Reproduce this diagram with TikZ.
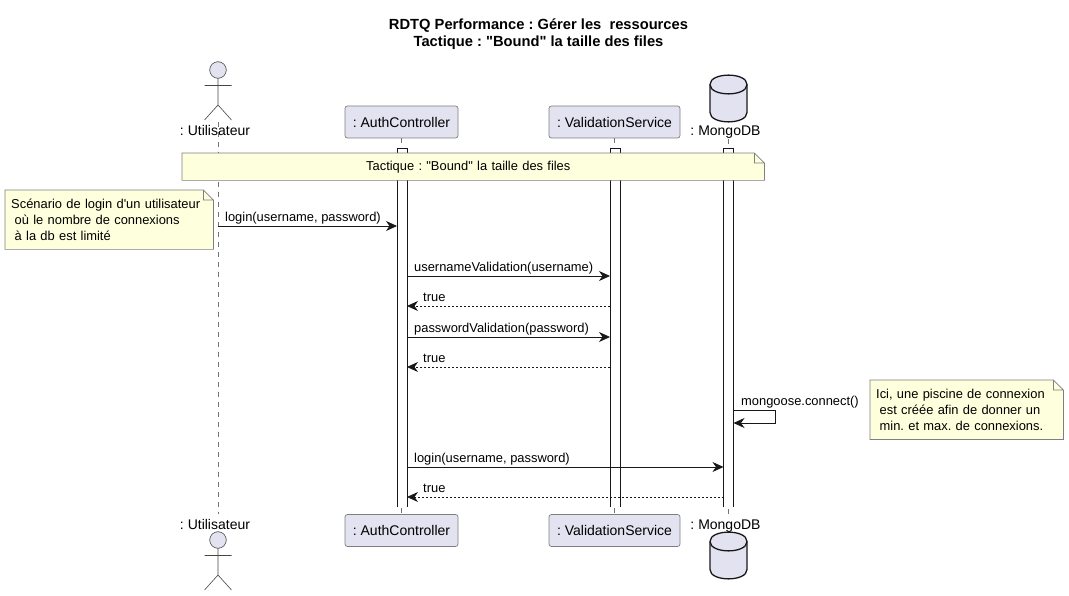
\documentclass[tikz,border=0pt]{standalone}
\usepackage{fontspec}
\setmainfont{Liberation Sans}[Ligatures=TeXOff]
\usetikzlibrary{arrows.meta}
\definecolor{boxfill}{HTML}{E2E2F0}
\definecolor{boxline}{HTML}{7F7F7F}
\definecolor{notefill}{HTML}{FEFFDD}
\definecolor{inkline}{HTML}{181818}
\tikzset{
    basefont/.style={font=\frenchspacing\fontsize{12.9}{16.3}\selectfont,text=black},
    bigfont/.style={font=\frenchspacing\fontsize{14}{17}\selectfont,text=black},
    partbox/.style={bigfont,draw=boxline,fill=boxfill,rounded corners=2.5pt,line width=0.7pt,
        minimum height=32pt,inner sep=0pt},
    partlabel/.style={bigfont,inner sep=0pt,anchor=base},
    msgtext/.style={basefont,inner sep=0pt,anchor=base west},
    msg/.style={draw=inkline,line width=0.8pt,-{Stealth[length=11pt,width=10pt,inset=3.5pt]}},
    reply/.style={msg,densely dashed,dash pattern=on 2pt off 2pt},
    lifeline/.style={draw=inkline!60,line width=0.6pt,dash pattern=on 5pt off 5pt},
    barbox/.style={fill=white,draw=none,minimum width=9.6pt,minimum height=359pt,inner sep=0pt,anchor=north},
    barline/.style={draw=inkline,line width=0.7pt},
    notebox/.style={basefont,fill=notefill,draw=none,inner xsep=6pt,inner ysep=0pt,align=left,anchor=north west,
        path picture={\fill[white] (path picture bounding box.north east) -- ++(-10pt,0pt) -- ++(10pt,-10pt) -- cycle;}},
    noteline/.style={draw=boxline,line width=0.7pt},
    actorpic/.pic={
        \draw[draw=inkline!80,line width=0.6pt,fill=boxfill] (0,0) circle[radius=8.3pt];
        \draw[draw=inkline!80,line width=0.6pt] (0,8.3) -- (0,35) (-13.5,15.5) -- (13.5,15.5)
            (-13.5,50) -- (0,35) -- (13.5,50);
    },
    dbpic/.pic={
        \draw[draw=inkline,line width=1.3pt,fill=boxfill] (-18.5,9.5) .. controls (-18.5,-3) and (18.5,-3) .. (18.5,9.5)
            -- (18.5,37.5) .. controls (18.5,50) and (-18.5,50) .. (-18.5,37.5) -- cycle;
        \draw[draw=inkline,line width=1.3pt] (-18.5,9.5) .. controls (-18.5,22) and (18.5,22) .. (18.5,9.5);
    },
}
\begin{document}
\begin{tikzpicture}[x=1pt,y=-1pt]
    \useasboundingbox (0,0) rectangle (1069,596);
    \node[font=\frenchspacing\fontsize{14.7}{17}\selectfont\bfseries,align=center,inner sep=0pt] (title) at (538.5,34)
        {RDTQ Performance : Gérer les\ \ ressources\\Tactique : "Bound" la taille des files};

    % participants
    \pic at (218,70) {actorpic};
    \pic at (218,540) {actorpic};
    \pic at (728.5,75) {dbpic};
    \pic at (728.5,532) {dbpic};
    \node[partlabel] (userTopLabel) at (215,136) {: Utilisateur};
    \node[partlabel] (userBotLabel) at (215,529) {: Utilisateur};
    \node[partlabel] (mongoTopLabel) at (725.5,136) {: MongoDB};
    \node[partlabel] (mongoBotLabel) at (725.5,529) {: MongoDB};
    \node[partbox,minimum width=113pt] (authTop) at (401.5,122) {: AuthController};
    \node[partbox,minimum width=113pt] (authBot) at (401.5,530.5) {: AuthController};
    \node[partbox,minimum width=131pt] (validTop) at (614.5,122) {: ValidationService};
    \node[partbox,minimum width=131pt] (validBot) at (614.5,530.5) {: ValidationService};
    \coordinate (userTop) at (218,122);
    \coordinate (userBot) at (218,514);
    \coordinate (mongoTop) at (728.5,139);
    \coordinate (mongoBot) at (728.5,514);

    % lifelines and bars
    \draw[lifeline] (userTop) -- (userBot);
    \draw[lifeline] (authTop) -- (authBot);
    \draw[lifeline] (validTop) -- (validBot);
    \draw[lifeline] (mongoTop) -- (mongoBot);
    \node[barbox] (authBar) at (402,148) {};
    \node[barbox] (validBar) at (615,148) {};
    \node[barbox] (mongoBar) at (728.5,148) {};
    \foreach \barname in {authBar,validBar,mongoBar}
        \draw[barline] (\barname.south west) -- (\barname.north west) -- (\barname.north east) -- (\barname.south east);

    % message levels
    \coordinate (m1) at (0,226);
    \coordinate (m2) at (0,276);
    \coordinate (m3) at (0,306);
    \coordinate (m4) at (0,337);
    \coordinate (m5) at (0,367);
    \coordinate (m6) at (0,410);
    \coordinate (m6b) at (0,423);
    \coordinate (m7) at (0,467);
    \coordinate (m8) at (0,497);
    \coordinate (loopEnd) at (775,0);

    \draw[msg] (userTop |- m1) -- (authBar.west |- m1);
    \node[msgtext] (t1) at (225,221.5) {login(username, password)};
    \draw[msg] (authBar.east |- m2) -- (validBar.west |- m2);
    \node[msgtext] (t2) at (414,271.5) {usernameValidation(username)};
    \draw[reply] (validBar.west |- m3) -- (authBar.east |- m3);
    \node[msgtext] (t3) at (423,301.5) {true};
    \draw[msg] (authBar.east |- m4) -- (validBar.west |- m4);
    \node[msgtext] (t4) at (414,332) {passwordValidation(password)};
    \draw[reply] (validBar.west |- m5) -- (authBar.east |- m5);
    \node[msgtext] (t5) at (423,362.5) {true};
    \draw[msg] (mongoBar.east |- m6) -- (loopEnd |- m6) -- (loopEnd |- m6b) -- (mongoBar.east |- m6b);
    \node[msgtext] (t6) at (741,405) {mongoose.connect()};
    \draw[msg] (authBar.east |- m7) -- (mongoBar.west |- m7);
    \node[msgtext] (t7) at (414,462) {login(username, password)};
    \draw[reply] (mongoBar.west |- m8) -- (authBar.east |- m8);
    \node[msgtext] (t8) at (423,492.5) {true};

    % notes
    \node[notebox,minimum width=582pt,minimum height=27pt,text width=570pt] (tacticNote) at (182,153)
        {\hspace*{178pt}Tactique : "Bound" la taille des files};
    \node[notebox,minimum width=208pt,minimum height=59pt,text width=196pt] (loginNote) at (5,190)
        {Scénario de login d'un utilisateur\\\hspace*{3.5pt}où le nombre de connexions\\\hspace*{3.5pt}à la db est limité};
    \node[notebox,minimum width=193pt,minimum height=59pt,text width=181pt] (poolNote) at (870,380)
        {Ici, une piscine de connexion\\\hspace*{3.5pt}est créée afin de donner un\\\hspace*{3.5pt}min. et max. de connexions.};
    \foreach \notename in {tacticNote,loginNote,poolNote}
        \draw[noteline] (\notename.south west) -- (\notename.north west)
            -- ([xshift=-10pt]\notename.north east) -- ([yshift=-10pt]\notename.north east)
            -- (\notename.south east) -- cycle
            ([xshift=-10pt]\notename.north east) -- ([xshift=-10pt,yshift=-10pt]\notename.north east)
            -- ([yshift=-10pt]\notename.north east);
\end{tikzpicture}
\end{document}
